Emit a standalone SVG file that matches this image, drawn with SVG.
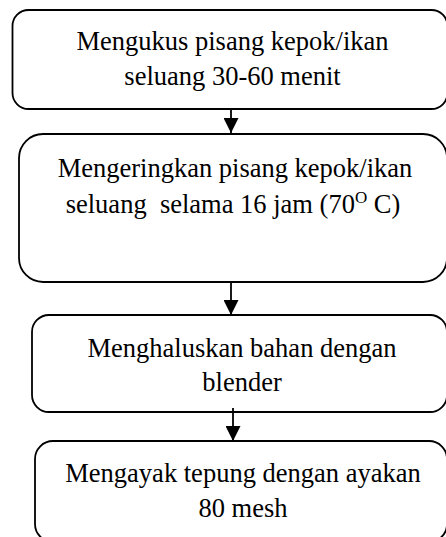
<svg xmlns="http://www.w3.org/2000/svg" width="446" height="537" viewBox="0 0 446 537">
<style>
.box{fill:#fff;stroke:#000;stroke-width:1.8}
.t{font-family:"Liberation Serif","Times New Roman",serif;font-size:26.5px;fill:#000;text-anchor:middle;white-space:pre}
.c{stroke:#000;stroke-width:1.8;fill:none}
</style>
<defs>
<marker id="ah" markerUnits="userSpaceOnUse" markerWidth="15" markerHeight="15" refX="15" refY="7.5" orient="auto" viewBox="0 0 15 15">
<path d="M0,0 L15,7.5 L0,15 z" fill="#000"/>
</marker>
</defs>
<rect width="446" height="537" fill="#fff"/>
<g id="n1">
<rect class="box" x="12.5" y="10" width="435" height="99" rx="16"/>
<text class="t" x="232.5" y="50">Mengukus pisang kepok/ikan</text>
<text class="t" x="232.5" y="85">seluang 30-60 menit</text>
</g>
<g id="n2">
<rect class="box" x="19" y="134" width="428" height="148" rx="24"/>
<text class="t" x="235" y="177">Mengeringkan pisang kepok/ikan</text>
<text class="t" x="233" y="213">seluang  selama 16 jam (70<tspan font-size="17" dy="-10">O</tspan><tspan dy="10"> C)</tspan></text>
</g>
<g id="n3">
<rect class="box" x="32" y="315" width="415" height="97" rx="17"/>
<text class="t" x="242" y="357">Menghaluskan bahan dengan</text>
<text class="t" x="242" y="391">blender</text>
</g>
<g id="n4">
<rect class="box" x="35" y="441" width="412" height="101" rx="18"/>
<text class="t" x="243" y="482">Mengayak tepung dengan ayakan</text>
<text class="t" x="243" y="517">80 mesh</text>
</g>
<g id="connectors">
<line class="c" x1="231" y1="109" x2="231" y2="133" marker-end="url(#ah)"/>
<line class="c" x1="231" y1="282" x2="231" y2="315" marker-end="url(#ah)"/>
<line class="c" x1="233" y1="408" x2="233" y2="441" marker-end="url(#ah)"/>
</g>
</svg>
